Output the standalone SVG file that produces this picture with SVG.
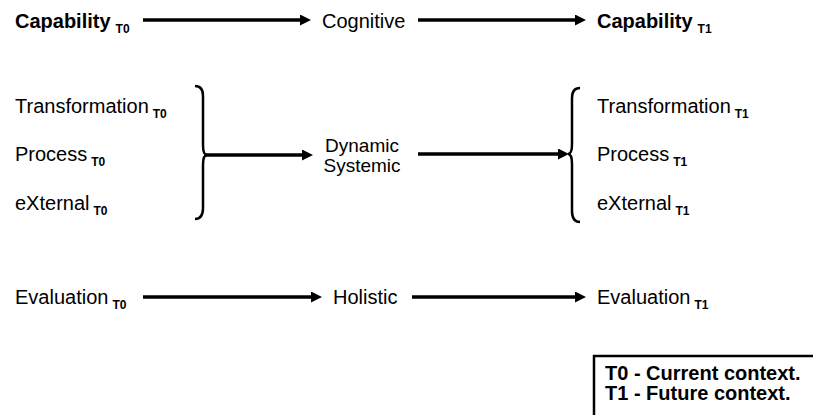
<svg xmlns="http://www.w3.org/2000/svg" width="813" height="415" viewBox="0 0 813 415">
<style>
text{font-family:"Liberation Sans",Arial,sans-serif;font-size:20px;fill:#000}
.b{font-weight:bold}
.sub{font-size:12px;font-weight:bold}
.ds{font-size:19px}
.conn line{stroke:#000;stroke-width:3.5}
.brace{fill:none;stroke:#000;stroke-width:2.5}
</style>
<defs>
<marker id="ah" viewBox="0 0 10 10" refX="0" refY="5" markerWidth="11" markerHeight="11" markerUnits="userSpaceOnUse" orient="auto">
<path d="M0,0 L10,5 L0,10 z" fill="#000"/>
</marker>
</defs>
<rect width="813" height="415" fill="#fff"/>

<g id="capability-t0"><text class="b" x="15" y="28">Capability<tspan class="sub" dx="5" dy="5">T0</tspan></text></g>
<g id="cognitive"><text x="322" y="28">Cognitive</text></g>
<g id="capability-t1"><text class="b" x="597" y="28">Capability<tspan class="sub" dx="5" dy="5">T1</tspan></text></g>

<g id="tpx-t0">
<text x="15" y="113">Transformation<tspan class="sub" dx="4" dy="5">T0</tspan></text>
<text x="15" y="161">Process<tspan class="sub" dx="4" dy="5">T0</tspan></text>
<text x="15" y="210">eXternal<tspan class="sub" dx="4" dy="5">T0</tspan></text>
<path class="brace" d="M195,86 Q203,86 203,96 L203,145 Q203,155 207,155 Q203,155 203,165 L203,208 Q203,219 195,219"/>
</g>
<g id="dynamic-systemic">
<text class="ds" x="362" y="152" text-anchor="middle">Dynamic</text>
<text class="ds" x="362" y="172" text-anchor="middle">Systemic</text>
</g>
<g id="tpx-t1">
<path class="brace" d="M580,88 Q572,88 572,98 L572,144 Q572,154 568,154 Q572,154 572,164 L572,211 Q572,222 580,222"/>
<text x="597" y="113">Transformation<tspan class="sub" dx="4" dy="5">T1</tspan></text>
<text x="597" y="161">Process<tspan class="sub" dx="4" dy="5">T1</tspan></text>
<text x="597" y="210">eXternal<tspan class="sub" dx="4" dy="5">T1</tspan></text>
</g>

<g id="evaluation-t0"><text x="15" y="304">Evaluation<tspan class="sub" dx="4" dy="5">T0</tspan></text></g>
<g id="holistic"><text x="333" y="304">Holistic</text></g>
<g id="evaluation-t1"><text x="597" y="304">Evaluation<tspan class="sub" dx="4" dy="5">T1</tspan></text></g>

<g id="legend">
<rect x="594" y="356" width="230" height="70" fill="#fff" stroke="#000" stroke-width="2.5"/>
<text class="b" x="605" y="380">T0 - Current context.</text>
<text class="b" x="605" y="400">T1 - Future context.</text>
</g>

<g id="connectors" class="conn">
<line x1="143" y1="20" x2="300" y2="20" marker-end="url(#ah)"/>
<line x1="418" y1="20" x2="575" y2="20" marker-end="url(#ah)"/>
<line x1="206" y1="155" x2="302" y2="155" marker-end="url(#ah)"/>
<line x1="418" y1="154" x2="558" y2="154" marker-end="url(#ah)"/>
<line x1="143" y1="297" x2="311" y2="297" marker-end="url(#ah)"/>
<line x1="412" y1="297" x2="575" y2="297" marker-end="url(#ah)"/>
</g>
</svg>
